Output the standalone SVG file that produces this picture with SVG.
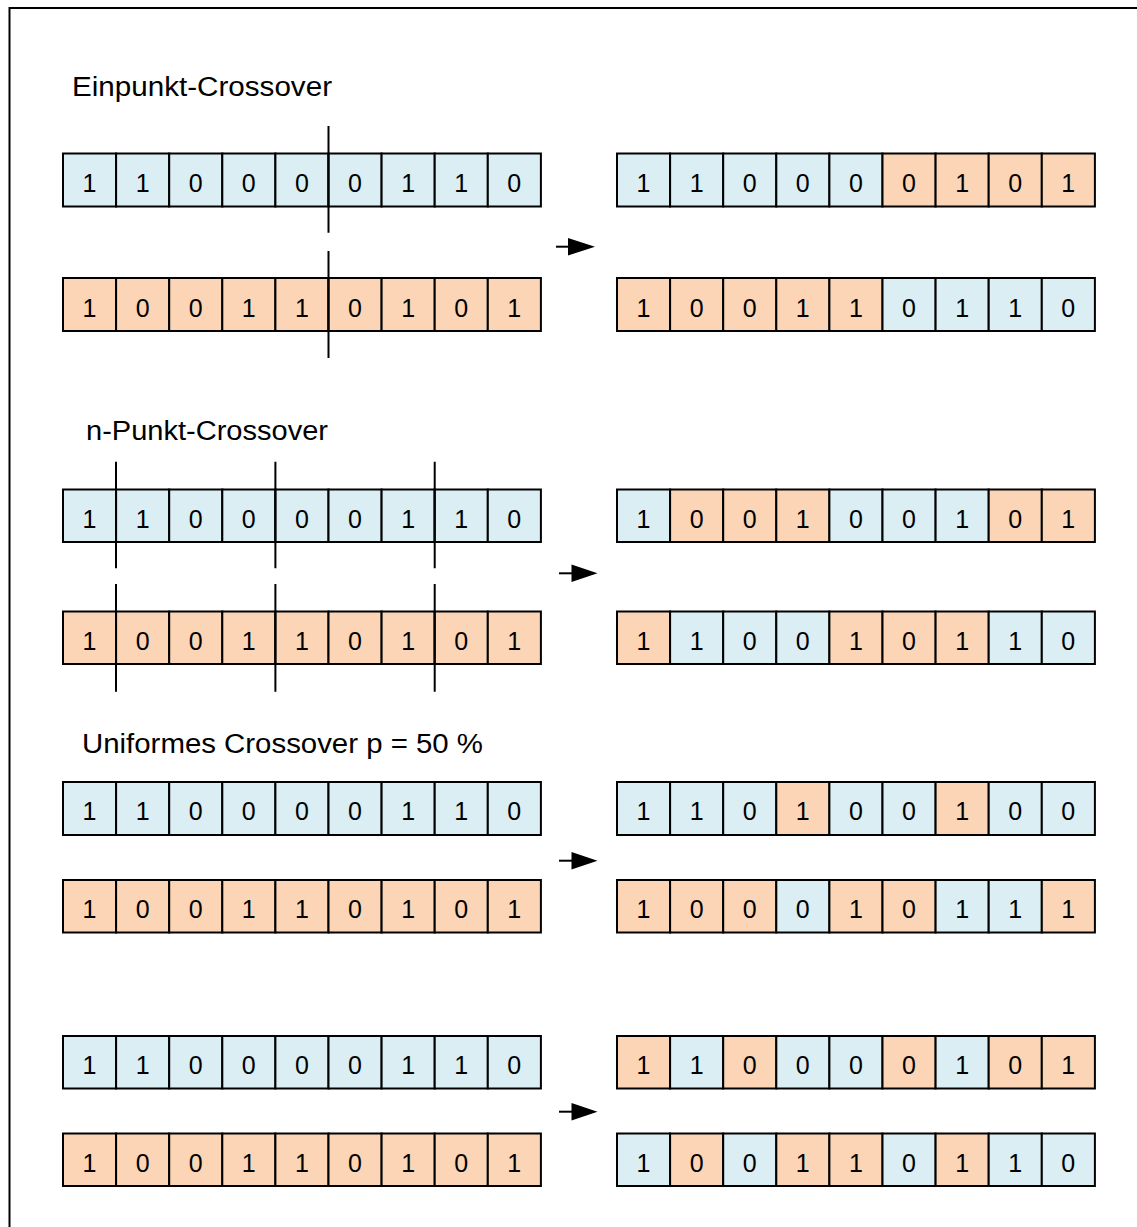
<svg xmlns="http://www.w3.org/2000/svg" width="1137" height="1227" viewBox="0 0 1137 1227">
<style>
.b{fill:#DAEEF3;stroke:#000;stroke-width:2}
.o{fill:#FBD5B5;stroke:#000;stroke-width:2}
.d{font-family:"Liberation Sans",Arial,sans-serif;font-size:25px;fill:#000;text-anchor:middle}
.t{font-family:"Liberation Sans",Arial,sans-serif;font-size:27px;fill:#000}
.cut{stroke:#000;stroke-width:2;fill:none}
.ar{stroke:#000;stroke-width:2;fill:none}
.ah{fill:#000}
</style>
<rect width="1137" height="1227" fill="#fff"/>
<path d="M9.5,1227 V8 H1137" fill="none" stroke="#000" stroke-width="2"/>

<text class="t" x="72" y="96" textLength="260" lengthAdjust="spacingAndGlyphs">Einpunkt-Crossover</text>
<text class="t" x="86" y="440" textLength="242" lengthAdjust="spacingAndGlyphs">n-Punkt-Crossover</text>
<text class="t" x="82" y="753" textLength="401" lengthAdjust="spacingAndGlyphs">Uniformes Crossover p = 50 %</text>

<!-- Section 1 -->
<g id="s1-p1">
<rect class="b" x="63" y="153.5" width="53.1" height="53"/><rect class="b" x="116.1" y="153.5" width="53.1" height="53"/><rect class="b" x="169.2" y="153.5" width="53.1" height="53"/><rect class="b" x="222.3" y="153.5" width="53.1" height="53"/><rect class="b" x="275.4" y="153.5" width="53.1" height="53"/><rect class="b" x="328.5" y="153.5" width="53.1" height="53"/><rect class="b" x="381.6" y="153.5" width="53.1" height="53"/><rect class="b" x="434.7" y="153.5" width="53.1" height="53"/><rect class="b" x="487.8" y="153.5" width="53.1" height="53"/>
<text class="d" y="192"><tspan x="89.5">1</tspan><tspan x="142.6">1</tspan><tspan x="195.7">0</tspan><tspan x="248.8">0</tspan><tspan x="301.9">0</tspan><tspan x="355">0</tspan><tspan x="408.1">1</tspan><tspan x="461.2">1</tspan><tspan x="514.3">0</tspan></text>
</g>
<g id="s1-p2">
<rect class="o" x="63" y="278" width="53.1" height="53"/><rect class="o" x="116.1" y="278" width="53.1" height="53"/><rect class="o" x="169.2" y="278" width="53.1" height="53"/><rect class="o" x="222.3" y="278" width="53.1" height="53"/><rect class="o" x="275.4" y="278" width="53.1" height="53"/><rect class="o" x="328.5" y="278" width="53.1" height="53"/><rect class="o" x="381.6" y="278" width="53.1" height="53"/><rect class="o" x="434.7" y="278" width="53.1" height="53"/><rect class="o" x="487.8" y="278" width="53.1" height="53"/>
<text class="d" y="316.5"><tspan x="89.5">1</tspan><tspan x="142.6">0</tspan><tspan x="195.7">0</tspan><tspan x="248.8">1</tspan><tspan x="301.9">1</tspan><tspan x="355">0</tspan><tspan x="408.1">1</tspan><tspan x="461.2">0</tspan><tspan x="514.3">1</tspan></text>
</g>
<g id="s1-c1">
<rect class="b" x="617" y="153.5" width="53.1" height="53"/><rect class="b" x="670.1" y="153.5" width="53.1" height="53"/><rect class="b" x="723.2" y="153.5" width="53.1" height="53"/><rect class="b" x="776.3" y="153.5" width="53.1" height="53"/><rect class="b" x="829.4" y="153.5" width="53.1" height="53"/><rect class="o" x="882.5" y="153.5" width="53.1" height="53"/><rect class="o" x="935.6" y="153.5" width="53.1" height="53"/><rect class="o" x="988.7" y="153.5" width="53.1" height="53"/><rect class="o" x="1041.8" y="153.5" width="53.1" height="53"/>
<text class="d" y="192"><tspan x="643.5">1</tspan><tspan x="696.6">1</tspan><tspan x="749.7">0</tspan><tspan x="802.8">0</tspan><tspan x="855.9">0</tspan><tspan x="909">0</tspan><tspan x="962.1">1</tspan><tspan x="1015.2">0</tspan><tspan x="1068.3">1</tspan></text>
</g>
<g id="s1-c2">
<rect class="o" x="617" y="278" width="53.1" height="53"/><rect class="o" x="670.1" y="278" width="53.1" height="53"/><rect class="o" x="723.2" y="278" width="53.1" height="53"/><rect class="o" x="776.3" y="278" width="53.1" height="53"/><rect class="o" x="829.4" y="278" width="53.1" height="53"/><rect class="b" x="882.5" y="278" width="53.1" height="53"/><rect class="b" x="935.6" y="278" width="53.1" height="53"/><rect class="b" x="988.7" y="278" width="53.1" height="53"/><rect class="b" x="1041.8" y="278" width="53.1" height="53"/>
<text class="d" y="316.5"><tspan x="643.5">1</tspan><tspan x="696.6">0</tspan><tspan x="749.7">0</tspan><tspan x="802.8">1</tspan><tspan x="855.9">1</tspan><tspan x="909">0</tspan><tspan x="962.1">1</tspan><tspan x="1015.2">1</tspan><tspan x="1068.3">0</tspan></text>
</g>

<!-- Section 2 -->
<g id="s2-p1">
<rect class="b" x="63" y="489.5" width="53.1" height="52.5"/><rect class="b" x="116.1" y="489.5" width="53.1" height="52.5"/><rect class="b" x="169.2" y="489.5" width="53.1" height="52.5"/><rect class="b" x="222.3" y="489.5" width="53.1" height="52.5"/><rect class="b" x="275.4" y="489.5" width="53.1" height="52.5"/><rect class="b" x="328.5" y="489.5" width="53.1" height="52.5"/><rect class="b" x="381.6" y="489.5" width="53.1" height="52.5"/><rect class="b" x="434.7" y="489.5" width="53.1" height="52.5"/><rect class="b" x="487.8" y="489.5" width="53.1" height="52.5"/>
<text class="d" y="527.5"><tspan x="89.5">1</tspan><tspan x="142.6">1</tspan><tspan x="195.7">0</tspan><tspan x="248.8">0</tspan><tspan x="301.9">0</tspan><tspan x="355">0</tspan><tspan x="408.1">1</tspan><tspan x="461.2">1</tspan><tspan x="514.3">0</tspan></text>
</g>
<g id="s2-p2">
<rect class="o" x="63" y="611.5" width="53.1" height="52.5"/><rect class="o" x="116.1" y="611.5" width="53.1" height="52.5"/><rect class="o" x="169.2" y="611.5" width="53.1" height="52.5"/><rect class="o" x="222.3" y="611.5" width="53.1" height="52.5"/><rect class="o" x="275.4" y="611.5" width="53.1" height="52.5"/><rect class="o" x="328.5" y="611.5" width="53.1" height="52.5"/><rect class="o" x="381.6" y="611.5" width="53.1" height="52.5"/><rect class="o" x="434.7" y="611.5" width="53.1" height="52.5"/><rect class="o" x="487.8" y="611.5" width="53.1" height="52.5"/>
<text class="d" y="649.5"><tspan x="89.5">1</tspan><tspan x="142.6">0</tspan><tspan x="195.7">0</tspan><tspan x="248.8">1</tspan><tspan x="301.9">1</tspan><tspan x="355">0</tspan><tspan x="408.1">1</tspan><tspan x="461.2">0</tspan><tspan x="514.3">1</tspan></text>
</g>
<g id="s2-c1">
<rect class="b" x="617" y="489.5" width="53.1" height="52.5"/><rect class="o" x="670.1" y="489.5" width="53.1" height="52.5"/><rect class="o" x="723.2" y="489.5" width="53.1" height="52.5"/><rect class="o" x="776.3" y="489.5" width="53.1" height="52.5"/><rect class="b" x="829.4" y="489.5" width="53.1" height="52.5"/><rect class="b" x="882.5" y="489.5" width="53.1" height="52.5"/><rect class="b" x="935.6" y="489.5" width="53.1" height="52.5"/><rect class="o" x="988.7" y="489.5" width="53.1" height="52.5"/><rect class="o" x="1041.8" y="489.5" width="53.1" height="52.5"/>
<text class="d" y="527.5"><tspan x="643.5">1</tspan><tspan x="696.6">0</tspan><tspan x="749.7">0</tspan><tspan x="802.8">1</tspan><tspan x="855.9">0</tspan><tspan x="909">0</tspan><tspan x="962.1">1</tspan><tspan x="1015.2">0</tspan><tspan x="1068.3">1</tspan></text>
</g>
<g id="s2-c2">
<rect class="o" x="617" y="611.5" width="53.1" height="52.5"/><rect class="b" x="670.1" y="611.5" width="53.1" height="52.5"/><rect class="b" x="723.2" y="611.5" width="53.1" height="52.5"/><rect class="b" x="776.3" y="611.5" width="53.1" height="52.5"/><rect class="o" x="829.4" y="611.5" width="53.1" height="52.5"/><rect class="o" x="882.5" y="611.5" width="53.1" height="52.5"/><rect class="o" x="935.6" y="611.5" width="53.1" height="52.5"/><rect class="b" x="988.7" y="611.5" width="53.1" height="52.5"/><rect class="b" x="1041.8" y="611.5" width="53.1" height="52.5"/>
<text class="d" y="649.5"><tspan x="643.5">1</tspan><tspan x="696.6">1</tspan><tspan x="749.7">0</tspan><tspan x="802.8">0</tspan><tspan x="855.9">1</tspan><tspan x="909">0</tspan><tspan x="962.1">1</tspan><tspan x="1015.2">1</tspan><tspan x="1068.3">0</tspan></text>
</g>

<!-- Section 3 -->
<g id="s3-p1">
<rect class="b" x="63" y="782" width="53.1" height="53"/><rect class="b" x="116.1" y="782" width="53.1" height="53"/><rect class="b" x="169.2" y="782" width="53.1" height="53"/><rect class="b" x="222.3" y="782" width="53.1" height="53"/><rect class="b" x="275.4" y="782" width="53.1" height="53"/><rect class="b" x="328.5" y="782" width="53.1" height="53"/><rect class="b" x="381.6" y="782" width="53.1" height="53"/><rect class="b" x="434.7" y="782" width="53.1" height="53"/><rect class="b" x="487.8" y="782" width="53.1" height="53"/>
<text class="d" y="820"><tspan x="89.5">1</tspan><tspan x="142.6">1</tspan><tspan x="195.7">0</tspan><tspan x="248.8">0</tspan><tspan x="301.9">0</tspan><tspan x="355">0</tspan><tspan x="408.1">1</tspan><tspan x="461.2">1</tspan><tspan x="514.3">0</tspan></text>
</g>
<g id="s3-p2">
<rect class="o" x="63" y="880" width="53.1" height="52.5"/><rect class="o" x="116.1" y="880" width="53.1" height="52.5"/><rect class="o" x="169.2" y="880" width="53.1" height="52.5"/><rect class="o" x="222.3" y="880" width="53.1" height="52.5"/><rect class="o" x="275.4" y="880" width="53.1" height="52.5"/><rect class="o" x="328.5" y="880" width="53.1" height="52.5"/><rect class="o" x="381.6" y="880" width="53.1" height="52.5"/><rect class="o" x="434.7" y="880" width="53.1" height="52.5"/><rect class="o" x="487.8" y="880" width="53.1" height="52.5"/>
<text class="d" y="918"><tspan x="89.5">1</tspan><tspan x="142.6">0</tspan><tspan x="195.7">0</tspan><tspan x="248.8">1</tspan><tspan x="301.9">1</tspan><tspan x="355">0</tspan><tspan x="408.1">1</tspan><tspan x="461.2">0</tspan><tspan x="514.3">1</tspan></text>
</g>
<g id="s3-c1">
<rect class="b" x="617" y="782" width="53.1" height="53"/><rect class="b" x="670.1" y="782" width="53.1" height="53"/><rect class="b" x="723.2" y="782" width="53.1" height="53"/><rect class="o" x="776.3" y="782" width="53.1" height="53"/><rect class="b" x="829.4" y="782" width="53.1" height="53"/><rect class="b" x="882.5" y="782" width="53.1" height="53"/><rect class="o" x="935.6" y="782" width="53.1" height="53"/><rect class="b" x="988.7" y="782" width="53.1" height="53"/><rect class="b" x="1041.8" y="782" width="53.1" height="53"/>
<text class="d" y="820"><tspan x="643.5">1</tspan><tspan x="696.6">1</tspan><tspan x="749.7">0</tspan><tspan x="802.8">1</tspan><tspan x="855.9">0</tspan><tspan x="909">0</tspan><tspan x="962.1">1</tspan><tspan x="1015.2">0</tspan><tspan x="1068.3">0</tspan></text>
</g>
<g id="s3-c2">
<rect class="o" x="617" y="880" width="53.1" height="52.5"/><rect class="o" x="670.1" y="880" width="53.1" height="52.5"/><rect class="o" x="723.2" y="880" width="53.1" height="52.5"/><rect class="b" x="776.3" y="880" width="53.1" height="52.5"/><rect class="o" x="829.4" y="880" width="53.1" height="52.5"/><rect class="o" x="882.5" y="880" width="53.1" height="52.5"/><rect class="b" x="935.6" y="880" width="53.1" height="52.5"/><rect class="b" x="988.7" y="880" width="53.1" height="52.5"/><rect class="o" x="1041.8" y="880" width="53.1" height="52.5"/>
<text class="d" y="918"><tspan x="643.5">1</tspan><tspan x="696.6">0</tspan><tspan x="749.7">0</tspan><tspan x="802.8">0</tspan><tspan x="855.9">1</tspan><tspan x="909">0</tspan><tspan x="962.1">1</tspan><tspan x="1015.2">1</tspan><tspan x="1068.3">1</tspan></text>
</g>

<!-- Section 4 -->
<g id="s4-p1">
<rect class="b" x="63" y="1036" width="53.1" height="52.5"/><rect class="b" x="116.1" y="1036" width="53.1" height="52.5"/><rect class="b" x="169.2" y="1036" width="53.1" height="52.5"/><rect class="b" x="222.3" y="1036" width="53.1" height="52.5"/><rect class="b" x="275.4" y="1036" width="53.1" height="52.5"/><rect class="b" x="328.5" y="1036" width="53.1" height="52.5"/><rect class="b" x="381.6" y="1036" width="53.1" height="52.5"/><rect class="b" x="434.7" y="1036" width="53.1" height="52.5"/><rect class="b" x="487.8" y="1036" width="53.1" height="52.5"/>
<text class="d" y="1074"><tspan x="89.5">1</tspan><tspan x="142.6">1</tspan><tspan x="195.7">0</tspan><tspan x="248.8">0</tspan><tspan x="301.9">0</tspan><tspan x="355">0</tspan><tspan x="408.1">1</tspan><tspan x="461.2">1</tspan><tspan x="514.3">0</tspan></text>
</g>
<g id="s4-p2">
<rect class="o" x="63" y="1133.5" width="53.1" height="52.5"/><rect class="o" x="116.1" y="1133.5" width="53.1" height="52.5"/><rect class="o" x="169.2" y="1133.5" width="53.1" height="52.5"/><rect class="o" x="222.3" y="1133.5" width="53.1" height="52.5"/><rect class="o" x="275.4" y="1133.5" width="53.1" height="52.5"/><rect class="o" x="328.5" y="1133.5" width="53.1" height="52.5"/><rect class="o" x="381.6" y="1133.5" width="53.1" height="52.5"/><rect class="o" x="434.7" y="1133.5" width="53.1" height="52.5"/><rect class="o" x="487.8" y="1133.5" width="53.1" height="52.5"/>
<text class="d" y="1171.5"><tspan x="89.5">1</tspan><tspan x="142.6">0</tspan><tspan x="195.7">0</tspan><tspan x="248.8">1</tspan><tspan x="301.9">1</tspan><tspan x="355">0</tspan><tspan x="408.1">1</tspan><tspan x="461.2">0</tspan><tspan x="514.3">1</tspan></text>
</g>
<g id="s4-c1">
<rect class="o" x="617" y="1036" width="53.1" height="52.5"/><rect class="b" x="670.1" y="1036" width="53.1" height="52.5"/><rect class="o" x="723.2" y="1036" width="53.1" height="52.5"/><rect class="b" x="776.3" y="1036" width="53.1" height="52.5"/><rect class="b" x="829.4" y="1036" width="53.1" height="52.5"/><rect class="o" x="882.5" y="1036" width="53.1" height="52.5"/><rect class="b" x="935.6" y="1036" width="53.1" height="52.5"/><rect class="o" x="988.7" y="1036" width="53.1" height="52.5"/><rect class="o" x="1041.8" y="1036" width="53.1" height="52.5"/>
<text class="d" y="1074"><tspan x="643.5">1</tspan><tspan x="696.6">1</tspan><tspan x="749.7">0</tspan><tspan x="802.8">0</tspan><tspan x="855.9">0</tspan><tspan x="909">0</tspan><tspan x="962.1">1</tspan><tspan x="1015.2">0</tspan><tspan x="1068.3">1</tspan></text>
</g>
<g id="s4-c2">
<rect class="b" x="617" y="1133.5" width="53.1" height="52.5"/><rect class="o" x="670.1" y="1133.5" width="53.1" height="52.5"/><rect class="b" x="723.2" y="1133.5" width="53.1" height="52.5"/><rect class="o" x="776.3" y="1133.5" width="53.1" height="52.5"/><rect class="o" x="829.4" y="1133.5" width="53.1" height="52.5"/><rect class="b" x="882.5" y="1133.5" width="53.1" height="52.5"/><rect class="o" x="935.6" y="1133.5" width="53.1" height="52.5"/><rect class="b" x="988.7" y="1133.5" width="53.1" height="52.5"/><rect class="b" x="1041.8" y="1133.5" width="53.1" height="52.5"/>
<text class="d" y="1171.5"><tspan x="643.5">1</tspan><tspan x="696.6">0</tspan><tspan x="749.7">0</tspan><tspan x="802.8">1</tspan><tspan x="855.9">1</tspan><tspan x="909">0</tspan><tspan x="962.1">1</tspan><tspan x="1015.2">1</tspan><tspan x="1068.3">0</tspan></text>
</g>

<g id="cut-lines">
<path class="cut" d="M328.5,126 V232.7 M328.5,251 V358"/>
<path class="cut" d="M116,461.7 V568.3 M116,584 V691.7 M275.4,461.7 V568.3 M275.4,584 V691.7 M434.7,461.7 V568.3 M434.7,584 V691.7"/>
</g>

<g id="connectors">
<path class="ar" d="M556,246.7 H570"/><polygon class="ah" points="568,238 595,246.7 568,255.4"/>
<path class="ar" d="M559,573.3 H573"/><polygon class="ah" points="571.5,564.5 597.5,573.3 571.5,582"/>
<path class="ar" d="M559,860.7 H573"/><polygon class="ah" points="571.5,852 597.5,860.7 571.5,869.4"/>
<path class="ar" d="M559,1111.7 H573"/><polygon class="ah" points="571.5,1103 597.5,1111.7 571.5,1120.4"/>
</g>
</svg>
